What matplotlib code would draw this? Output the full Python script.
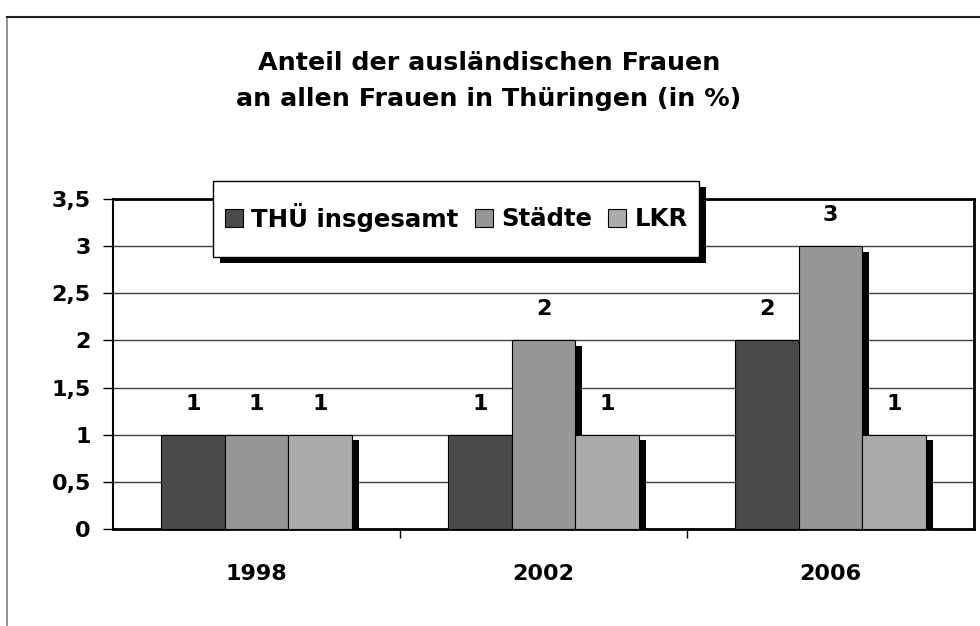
import matplotlib
matplotlib.use("Agg")
import matplotlib.pyplot as plt
import matplotlib.patheffects as pe
from matplotlib.patches import Patch, Rectangle
from matplotlib.lines import Line2D
import numpy as np

plt.rcParams['font.family'] = ['DejaVu Sans']
plt.rcParams['font.weight'] = 'bold'

years = ['1998', '2002', '2006']
series = ['THÜ insgesamt', 'Städte', 'LKR']
thue = [1, 1, 2]
staedte = [1, 2, 3]
lkr = [1, 1, 1]
colors = ['#4a4a4a', '#969696', '#ababab']
yticks = [0, 0.5, 1, 1.5, 2, 2.5, 3, 3.5]
ytick_labels = ['0', '0,5', '1', '1,5', '2', '2,5', '3', '3,5']

W, H = 980, 626
fig = plt.figure(figsize=(W / 100, H / 100), dpi=100)

def fx(px):
    return px / W

def fy(py):
    return 1 - py / H

# outer chart border (only top and left visible)
fig.add_artist(Line2D([fx(7), fx(7)], [0, fy(17)], color='#808080', lw=1.2,
                      transform=fig.transFigure))
fig.add_artist(Line2D([fx(7), 1], [fy(17), fy(17)], color='#202020', lw=1.5,
                      transform=fig.transFigure))

ax = fig.add_axes([fx(113), fy(529), fx(974 - 113), (529 - 199) / H])

x = np.arange(len(years))
w = 0.222
shadow = [pe.SimplePatchShadow(offset=(5, -4), shadow_rgbFace='black', alpha=1.0),
          pe.Normal()]
for i, (vals, c) in enumerate(zip([thue, staedte, lkr], colors)):
    bars = ax.bar(x + (i - 1) * w, vals, w, color=c, edgecolor='black', linewidth=0.8,
                  zorder=3)
    for b, v in zip(bars, vals):
        b.set_path_effects(shadow)
        ax.text(b.get_x() + b.get_width() / 2, v + 0.33, str(v), ha='center',
                va='center', fontsize=16, fontweight='bold')

ax.set_xlim(-0.5, 2.5)
ax.set_ylim(0, 3.5)
ax.set_yticks(yticks)
ax.set_yticklabels(ytick_labels, fontsize=16, fontweight='bold')
ax.yaxis.grid(True, color='#404040', lw=1.0, zorder=0)
ax.set_axisbelow(True)
ax.set_xticks(x)
ax.set_xticklabels(years, fontsize=16, fontweight='bold')
ax.tick_params(axis='x', length=0, pad=25)
ax.set_xticks([0.5, 1.5], minor=True)
ax.tick_params(axis='x', which='minor', length=6.5, width=1, direction='out')
ax.tick_params(axis='y', length=7, width=1, pad=9)
for s in ax.spines.values():
    s.set_linewidth(2)
ax.spines['left'].set_linewidth(1.5)

fig.text(fx(489), fy(62.5), 'Anteil der ausländischen Frauen', ha='center',
         va='center', fontsize=18.3, fontweight='bold')
fig.text(fx(489), fy(99), 'an allen Frauen in Thüringen (in %)', ha='center',
         va='center', fontsize=18.3, fontweight='bold')

# legend frame with shadow
lx0, lx1, ly0, ly1 = 213, 699, 181, 257
fig.add_artist(Rectangle((fx(lx0 + 7), fy(ly1 + 6)), fx(lx1 - lx0), (ly1 - ly0) / H,
                         transform=fig.transFigure, facecolor='black', edgecolor='none',
                         zorder=4))
fig.add_artist(Rectangle((fx(lx0), fy(ly1)), fx(lx1 - lx0), (ly1 - ly0) / H,
                         transform=fig.transFigure, facecolor='white', edgecolor='black',
                         lw=1.0, zorder=4.1))
handles = [Patch(facecolor=c, edgecolor='black', linewidth=0.8) for c in colors]
leg = fig.legend(handles, series, loc='center left',
                 bbox_to_anchor=(fx(lx0 + 12), fy(217)), ncol=3, frameon=False,
                 borderaxespad=0, borderpad=0, prop={'size': 17.6, 'weight': 'bold'},
                 handlelength=0.74, handleheight=0.7, handletextpad=0.34,
                 columnspacing=0.66)
leg.set_zorder(5)

fig.savefig('out.png', dpi=100)
